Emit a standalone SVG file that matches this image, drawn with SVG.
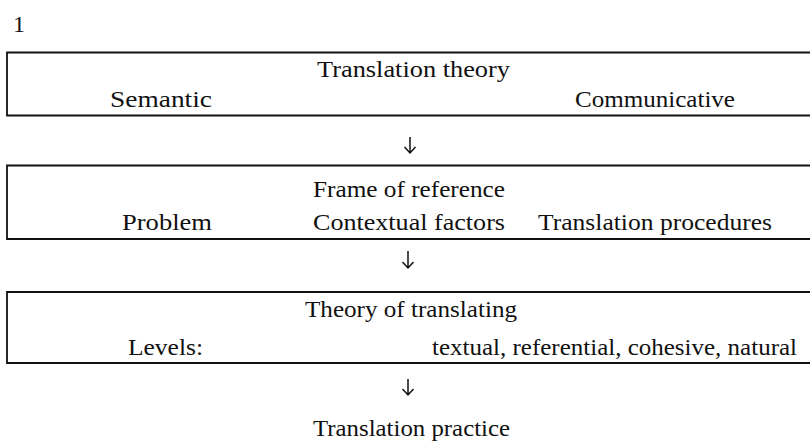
<svg xmlns="http://www.w3.org/2000/svg" width="810" height="443" viewBox="0 0 810 443">
<style>
  text { font-family: "Liberation Serif", "Times New Roman", serif; font-size: 24px; fill: #111; }
  .box { fill: none; stroke: #111; stroke-width: 1.8; }
  .arr { fill: none; stroke: #111; stroke-width: 1.5; }
</style>
<rect width="810" height="443" fill="#fff"/>
<text x="13" y="32" font-size="25">1</text>
<g id="node-theory">
  <path class="box" d="M815 52.5 H7 V115.5 H815"/>
  <text x="317" y="77" textLength="193" lengthAdjust="spacingAndGlyphs">Translation theory</text>
  <text x="110" y="107" textLength="102" lengthAdjust="spacingAndGlyphs">Semantic</text>
  <text x="575" y="107" textLength="160" lengthAdjust="spacingAndGlyphs">Communicative</text>
</g>
<g id="node-frame">
  <path class="box" d="M815 165.5 H7 V239 H815"/>
  <text x="313" y="197" textLength="192" lengthAdjust="spacingAndGlyphs">Frame of reference</text>
  <text x="122" y="230" textLength="90" lengthAdjust="spacingAndGlyphs">Problem</text>
  <text x="313" y="230" textLength="192" lengthAdjust="spacingAndGlyphs">Contextual factors</text>
  <text x="538" y="230" textLength="234" lengthAdjust="spacingAndGlyphs">Translation procedures</text>
</g>
<g id="node-translating">
  <path class="box" d="M815 292 H7 V363 H815"/>
  <text x="305" y="317" textLength="212" lengthAdjust="spacingAndGlyphs">Theory of translating</text>
  <text x="128" y="355" textLength="75" lengthAdjust="spacingAndGlyphs">Levels:</text>
  <text x="432" y="355" textLength="365" lengthAdjust="spacingAndGlyphs">textual, referential, cohesive, natural</text>
</g>
<g id="node-practice">
  <text x="313" y="436" textLength="197" lengthAdjust="spacingAndGlyphs">Translation practice</text>
</g>
<g id="connectors">
  <path class="arr" d="M410 137 V153 M404.5 147 L410 153 L415.5 147"/>
  <path class="arr" d="M408 251 V268 M402.5 262 L408 268 L413.5 262"/>
  <path class="arr" d="M408 379 V395 M402.5 389 L408 395 L413.5 389"/>
</g>
</svg>
